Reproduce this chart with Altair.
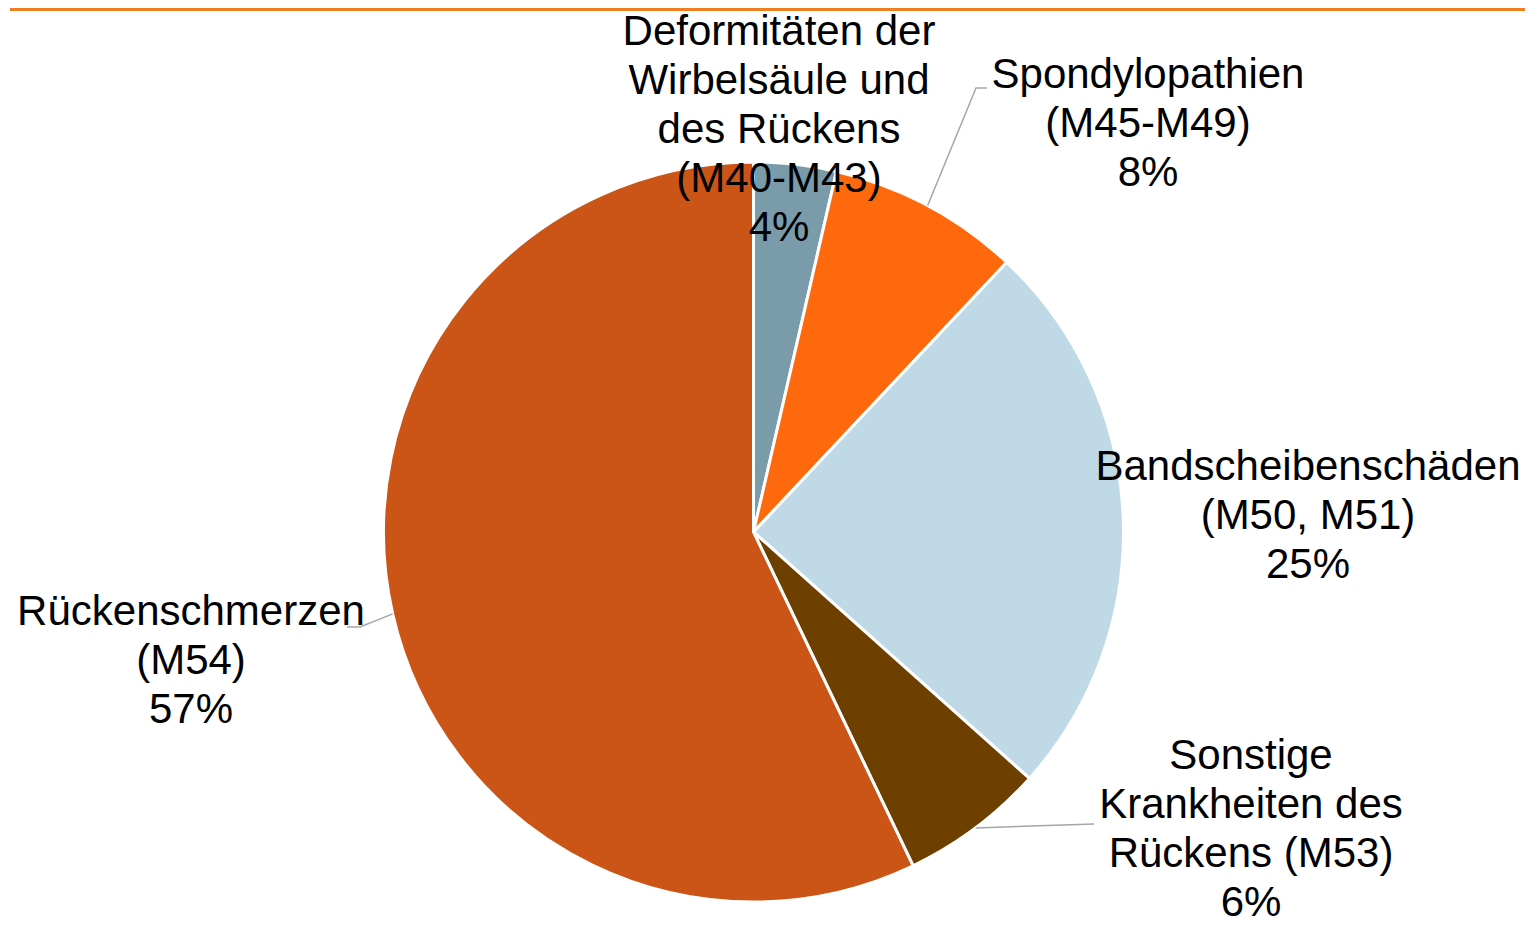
import math
import altair as alt
import pandas as pd

# ---- data ----
categories = [
    "Deformitäten der Wirbelsäule und des Rückens (M40-M43)",
    "Spondylopathien (M45-M49)",
    "Bandscheibenschäden (M50, M51)",
    "Sonstige Krankheiten des Rückens (M53)",
    "Rückenschmerzen (M54)",
]
values = [3.6, 8.4, 24.6, 6.3, 57.1]
label_lines = [
    ["Deformitäten der", "Wirbelsäule und", "des Rückens", "(M40-M43)"],
    ["Spondylopathien", "(M45-M49)"],
    ["Bandscheibenschäden", "(M50, M51)"],
    ["Sonstige", "Krankheiten des", "Rückens (M53)"],
    ["Rückenschmerzen", "(M54)"],
]
colors = ["#7A9BAA", "#FF690D", "#C0D9E6", "#6E4000", "#CA5516"]

# ---- layout ----
W, H = 1517, 917
CX, CY, R = 743.5, 524.0, 370
label_pos = [(769, 37), (1138, 80), (1298, 472), (1241, 761), (181, 617)]
# leader lines: slice index -> extra points after the slice edge point
leader_pts = {1: [(966, 80), (977, 80)], 3: [(1084, 816)], 4: [(350, 619), (337, 619)]}

total = sum(values)
df = pd.DataFrame({"cat": categories, "value": values, "idx": range(len(values))})

# label table
lab_rows = []
for i, (lines, v) in enumerate(zip(label_lines, values)):
    pct = f"{int(math.floor(v / total * 100 + 0.5))}%"
    lab_rows.append({"text": "\n".join(lines + [pct]), "lx": label_pos[i][0], "ly": label_pos[i][1]})
lab_df = pd.DataFrame(lab_rows)

# leader line table, starting at the slice's mid-angle on the rim
cum = 0.0
line_rows = []
for i, v in enumerate(values):
    mid = (cum + v / 2) / total * 2 * math.pi
    cum += v
    if i in leader_pts:
        ex = CX + R * math.sin(mid)
        ey = CY - R * math.cos(mid)
        pts = [(ex, ey)] + leader_pts[i]
        for k, (px, py) in enumerate(pts):
            line_rows.append({"g": i, "o": k, "px": px, "py": py})
line_df = pd.DataFrame(line_rows)

pie = alt.Chart(df).mark_arc(outerRadius=R, stroke="white", strokeWidth=3).encode(
    theta=alt.Theta("value:Q", stack=True),
    color=alt.Color("cat:N", scale=alt.Scale(domain=categories, range=colors), legend=None),
    order=alt.Order("idx:Q"),
    x=alt.value(CX),
    y=alt.value(CY),
)

leaders = alt.Chart(line_df).mark_line(color="#A6A6A6", strokeWidth=1.5).encode(
    x=alt.X("px:Q", scale=None),
    y=alt.Y("py:Q", scale=None),
    detail="g:N",
    order="o:Q",
)

labels = alt.Chart(lab_df).mark_text(
    lineBreak="\n", fontSize=42, font="Liberation Sans", align="center",
    baseline="alphabetic", lineHeight=49, color="black",
).encode(
    x=alt.X("lx:Q", scale=None),
    y=alt.Y("ly:Q", scale=None),
    text="text:N",
)

topline = alt.Chart(df).mark_rule(color="#F07D1F", strokeWidth=3).encode(
    x=alt.value(0), x2=alt.value(W), y=alt.value(1.5)
)

chart = alt.layer(pie, leaders, labels, topline).properties(
    width=W, height=H, padding=0,
    autosize=alt.AutoSizeParams(type="fit", contains="padding"),
).configure_view(strokeWidth=0)

chart.save("out.html", embed_options={"renderer": "svg", "actions": False})
